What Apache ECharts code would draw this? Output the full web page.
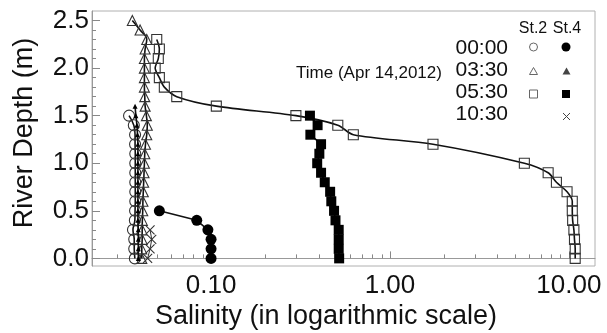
<!DOCTYPE html>
<html><head><meta charset="utf-8">
<script src="https://cdn.jsdelivr.net/npm/echarts@6/dist/echarts.min.js"></script>
<style>html,body{margin:0;padding:0;background:#fff}#c{width:607px;height:333px}</style>
</head><body><div id="c"></div>
<script>
// ---- data (depth in m, salinity) ----
const st2_0000_depth = [1.5,1.4,1.3,1.2,1.1,1.0,0.9,0.8,0.7,0.6,0.5,0.4,0.3,0.2,0.1,0.0];
const st2_0000_sal   = [0.0348,0.0370,0.0376,0.0376,0.0377,0.0377,0.0377,0.0377,0.0377,0.0377,0.0376,0.0375,0.0366,0.0372,0.0372,0.0375];

const st4_0000_depth = [0.5,0.4,0.3,0.2,0.1,0.0];
const st4_0000_sal   = [0.0514,0.0832,0.096,0.100,0.100,0.100];

const st2_0330_depth = [2.5,2.4,2.3,2.2,2.1,2.0,1.9,1.8,1.7,1.6,1.5,1.4,1.3,1.2,1.1,1.0,0.9,0.8,0.7,0.6,0.5,0.4,0.3,0.2,0.1,0.0];
const st2_0330_sal   = [0.0363,0.0401,0.0437,0.0428,0.0424,0.0424,0.0424,0.0424,0.0426,0.0428,0.0435,0.0440,0.0437,0.0430,0.0426,0.0424,0.0422,0.0420,0.0418,0.0416,0.0415,0.0413,0.0412,0.0412,0.0410,0.0410];

const st4_0330_depth = [1.6,1.5,1.4,1.3,1.2,1.1,1.0,0.9,0.8,0.7,0.6,0.5,0.4,0.3,0.2,0.1,0.0];
const st4_0330_sal   = [0.0376,0.0380,0.0385,0.0388,0.0390,0.0390,0.0390,0.0390,0.0390,0.0390,0.0390,0.0390,0.0390,0.0392,0.0392,0.0392,0.0392];

const st2_0530_depth = [2.3,2.2,2.1,2.0,1.9,1.8,1.7,1.6,1.5,1.4,1.3,1.2,1.0,0.9,0.8,0.7,0.6,0.5,0.4,0.3,0.2,0.1,0.0];
const st2_0530_sal   = [0.0497,0.0514,0.0507,0.0487,0.0514,0.0548,0.0643,0.107,0.298,0.511,0.624,1.74,5.64,7.66,8.52,9.77,10.45,10.45,10.5,10.67,10.75,10.85,10.85];

const st4_0530_depth = [1.5,1.4,1.3,1.2,1.1,1.0,0.9,0.8,0.7,0.6,0.5,0.4,0.3,0.2,0.1,0.0];
const st4_0530_sal   = [0.357,0.394,0.359,0.412,0.403,0.392,0.412,0.432,0.463,0.470,0.487,0.496,0.517,0.517,0.517,0.520];

const st4_1030_depth = [0.3,0.2,0.1,0.0];
const st4_1030_sal   = [0.0456,0.0466,0.0456,0.0442];

// ---- axis ticks / labels ----
const xMajorTicks = [0.1, 1, 10];
const xMinorTicks = [0.03,0.04,0.05,0.06,0.07,0.08,0.09,0.2,0.3,0.4,0.5,0.6,0.7,0.8,0.9,2,3,4,5,6,7,8,9];
const yMajorTicks = [0.0,0.5,1.0,1.5,2.0,2.5];
const yMinorTicks = [0.1,0.2,0.3,0.4,0.6,0.7,0.8,0.9,1.1,1.2,1.3,1.4,1.6,1.7,1.8,1.9,2.1,2.2,2.3,2.4];
const legendTimes = ['00:00','03:30','05:30','10:30'];
const legendStations = ['St.2','St.4'];

const pairs = (xs, ys) => xs.map((v, i) => [v, ys[i]]);
const FONT = '"Liberation Sans", Arial, sans-serif';
const X_PATH = 'path://M0,0L10,10M10,0L0,10';

function openSeries(name, xs, ys, symbol, size, smooth) {
  return {
    name, type: 'line', data: pairs(xs, ys), symbol, symbolSize: size, smooth: smooth,
    lineStyle: {color: '#111', width: 1.6},
    itemStyle: {color: 'rgba(0,0,0,0)', borderColor: '#333', borderWidth: 1.1},
    z: 3
  };
}
function filledSeries(name, xs, ys, symbol, size, smooth) {
  return {
    name, type: 'line', data: pairs(xs, ys), symbol, symbolSize: size, smooth: smooth,
    lineStyle: {color: '#111', width: 1.6},
    itemStyle: {color: '#000', borderColor: '#000', borderWidth: 0},
    z: 4
  };
}

const chart = echarts.init(document.getElementById('c'), null, {renderer: 'canvas'});
const xMin = 0.0216, xMax = 14;
const yMin = -0.08, yMax = 2.6;

const option = {
  animation: false,
  backgroundColor: '#fff',
  grid: {left: 92, right: 12, top: 11, bottom: 67, show: true, borderColor: '#b0b0b0', borderWidth: 1, backgroundColor: 'transparent'},
  xAxis: [
    {type: 'log', logBase: 10, min: xMin, max: xMax, position: 'bottom',
     axisLine: {show: true, lineStyle: {color: '#999', width: 1}},
     axisTick: {show: true, inside: true, length: 7, customValues: xMajorTicks, lineStyle: {color: '#888'}},
     axisLabel: {show: true, customValues: xMajorTicks, formatter: v => Number(v).toFixed(2), fontSize: 26, fontFamily: FONT, color: '#111', margin: 7},
     splitLine: {show: false}, minorTick: {show: false}},
    {type: 'log', logBase: 10, min: xMin, max: xMax, position: 'bottom',
     axisLine: {show: false},
     axisTick: {show: true, inside: true, length: 4, customValues: xMinorTicks, lineStyle: {color: '#888'}},
     axisLabel: {show: false}, splitLine: {show: false}}
  ],
  yAxis: [
    {type: 'value', min: yMin, max: yMax, position: 'left',
     axisLine: {show: true, lineStyle: {color: '#999', width: 1}},
     axisTick: {show: true, inside: true, length: 8, customValues: yMajorTicks, lineStyle: {color: '#888'}},
     axisLabel: {show: true, customValues: yMajorTicks, formatter: v => Number(v).toFixed(1), fontSize: 26, fontFamily: FONT, color: '#111', margin: 3},
     splitLine: {show: false}},
    {type: 'value', min: yMin, max: yMax, position: 'left',
     axisLine: {show: false},
     axisTick: {show: true, inside: true, length: 4, customValues: yMinorTicks, lineStyle: {color: '#888'}},
     axisLabel: {show: false}, splitLine: {show: false}}
  ],
  series: [
    openSeries('St.2 00:00', st2_0000_sal, st2_0000_depth, 'circle', 11, 0.4),
    openSeries('St.2 03:30', st2_0330_sal, st2_0330_depth, 'triangle', 10, 0.4),
    filledSeries('St.4 03:30', st4_0330_sal, st4_0330_depth, 'triangle', 5, 0.4),
    openSeries('St.2 05:30', st2_0530_sal, st2_0530_depth, 'rect', 10, 0.3),
    filledSeries('St.4 00:00', st4_0000_sal, st4_0000_depth, 'circle', 11, false),
    filledSeries('St.4 05:30', st4_0530_sal, st4_0530_depth, 'rect', 10, false),
    {name: 'St.4 10:30', type: 'line', data: pairs(st4_1030_sal, st4_1030_depth), symbol: X_PATH, symbolSize: 9,
     lineStyle: {color: '#333', width: 1}, itemStyle: {color: 'rgba(0,0,0,0)', borderColor: '#333', borderWidth: 1.1}, z: 3}
  ],
  graphic: [
    // axis titles
    {type: 'text', x: 326, y: 317, style: {text: 'Salinity (in logarithmic scale)', font: '27px ' + FONT, fill: '#111', textAlign: 'center', textVerticalAlign: 'middle'}},
    {type: 'text', x: 25, y: 133, rotation: Math.PI / 2, style: {text: 'River Depth (m)', font: '27px ' + FONT, fill: '#111', textAlign: 'center', textVerticalAlign: 'middle'}},
    // legend block
    {type: 'text', x: 369, y: 73, style: {text: 'Time (Apr 14,2012)', font: '17px ' + FONT, fill: '#111', textAlign: 'center', textVerticalAlign: 'middle'}},
    {type: 'text', x: 533, y: 29, style: {text: legendStations[0], font: '16px ' + FONT, fill: '#111', textAlign: 'center', textVerticalAlign: 'middle'}},
    {type: 'text', x: 567, y: 29, style: {text: legendStations[1], font: '16px ' + FONT, fill: '#111', textAlign: 'center', textVerticalAlign: 'middle'}},
    {type: 'text', x: 508, y: 48, style: {text: legendTimes[0], font: '21px ' + FONT, fill: '#111', textAlign: 'right', textVerticalAlign: 'middle'}},
    {type: 'text', x: 508, y: 70, style: {text: legendTimes[1], font: '21px ' + FONT, fill: '#111', textAlign: 'right', textVerticalAlign: 'middle'}},
    {type: 'text', x: 508, y: 92, style: {text: legendTimes[2], font: '21px ' + FONT, fill: '#111', textAlign: 'right', textVerticalAlign: 'middle'}},
    {type: 'text', x: 508, y: 114, style: {text: legendTimes[3], font: '21px ' + FONT, fill: '#111', textAlign: 'right', textVerticalAlign: 'middle'}},
    {type: 'circle', shape: {cx: 533.5, cy: 47, r: 4}, style: {fill: 'none', stroke: '#666', lineWidth: 1}},
    {type: 'polygon', shape: {points: [[533.5, 67.5], [537.5, 74.5], [529.5, 74.5]]}, style: {fill: 'none', stroke: '#666', lineWidth: 1}},
    {type: 'rect', shape: {x: 529.5, y: 90, width: 8, height: 8}, style: {fill: 'none', stroke: '#666', lineWidth: 1}},
    {type: 'circle', shape: {cx: 566, cy: 47, r: 4.5}, style: {fill: '#000'}},
    {type: 'polygon', shape: {points: [[566.5, 67.5], [570.5, 74.5], [562.5, 74.5]]}, style: {fill: '#444'}},
    {type: 'rect', shape: {x: 562, y: 90, width: 8, height: 8}, style: {fill: '#000'}},
    {type: 'line', shape: {x1: 563, y1: 113, x2: 570, y2: 120}, style: {stroke: '#444', lineWidth: 1}},
    {type: 'line', shape: {x1: 570, y1: 113, x2: 563, y2: 120}, style: {stroke: '#444', lineWidth: 1}}
  ]
};
chart.setOption(option);
</script>
</body></html>
